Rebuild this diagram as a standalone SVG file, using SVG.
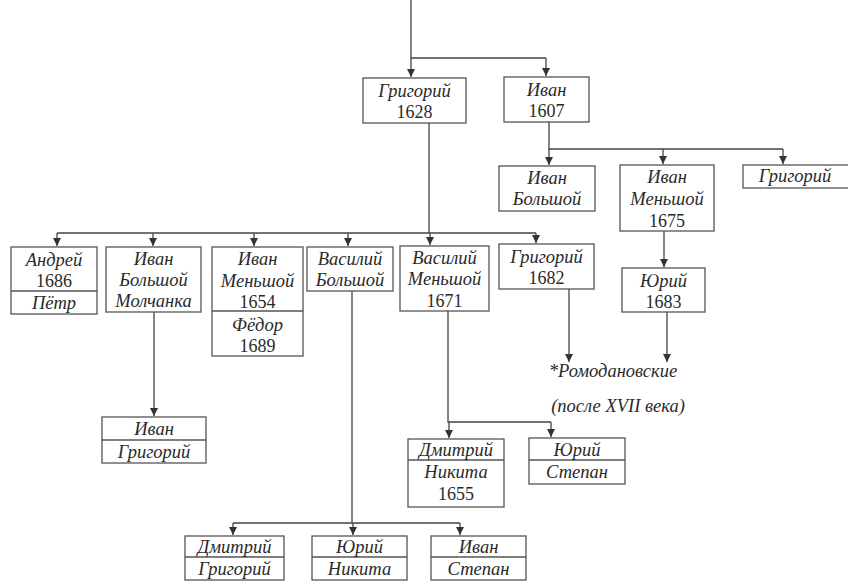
<svg xmlns="http://www.w3.org/2000/svg" width="848" height="581" viewBox="0 0 848 581">
<style>
.b{fill:#fff;stroke:#555;stroke-width:1.3}
.d{stroke:#555;stroke-width:1.3;fill:none}
.c{stroke:#444;stroke-width:1.3;fill:none}
.n{font-family:'Liberation Serif','Times New Roman','DejaVu Serif',serif;font-style:italic;font-size:18.5px;fill:#2a2a2a;text-anchor:middle}
.y{font-family:'Liberation Serif','Times New Roman','DejaVu Serif',serif;font-size:18px;fill:#2a2a2a;text-anchor:middle}
</style>
<defs>
<marker id="a" viewBox="0 0 8 8" refX="8" refY="4" markerWidth="8" markerHeight="8" markerUnits="userSpaceOnUse" orient="auto">
<path d="M0,0 L8,4 L0,8 Z" fill="#333"/>
</marker>
</defs>
<rect width="848" height="581" fill="#fff"/>
<g id="connectors">
<path class="c" d="M411,0 V58 H546"/>
<path class="c" d="M411,58 V77" marker-end="url(#a)"/>
<path class="c" d="M546,58 V76" marker-end="url(#a)"/>
<path class="c" d="M549,122 V149 H783"/>
<path class="c" d="M549,149 V165" marker-end="url(#a)"/>
<path class="c" d="M663,149 V164" marker-end="url(#a)"/>
<path class="c" d="M783,149 V164" marker-end="url(#a)"/>
<path class="c" d="M429,123 V233 M57,233 H536"/>
<path class="c" d="M57,233 V246" marker-end="url(#a)"/>
<path class="c" d="M153,233 V246" marker-end="url(#a)"/>
<path class="c" d="M254,233 V246" marker-end="url(#a)"/>
<path class="c" d="M348,233 V246" marker-end="url(#a)"/>
<path class="c" d="M430,233 V245" marker-end="url(#a)"/>
<path class="c" d="M536,233 V243" marker-end="url(#a)"/>
<path class="c" d="M664,231 V267" marker-end="url(#a)"/>
<path class="c" d="M569,289 V362" marker-end="url(#a)"/>
<path class="c" d="M667,312 V362" marker-end="url(#a)"/>
<path class="c" d="M154,312 V416" marker-end="url(#a)"/>
<path class="c" d="M448,311 V422 H551"/>
<path class="c" d="M449,422 V438" marker-end="url(#a)"/>
<path class="c" d="M551,422 V437" marker-end="url(#a)"/>
<path class="c" d="M352,291 V523 M233,523 H460"/>
<path class="c" d="M233,523 V535" marker-end="url(#a)"/>
<path class="c" d="M353,523 V535" marker-end="url(#a)"/>
<path class="c" d="M460,523 V535" marker-end="url(#a)"/>
</g>
<g id="grigoriy1628"><rect class="b" x="363" y="78" width="103" height="45"/><text class="n" x="414.5" y="97">Григорий</text><text class="y" x="414.5" y="118">1628</text></g>
<g id="ivan1607"><rect class="b" x="504" y="77" width="85" height="45"/><text class="n" x="546.5" y="96">Иван</text><text class="y" x="546.5" y="117">1607</text></g>
<g id="ivanBolshoy"><rect class="b" x="499" y="166" width="96" height="45"/><text class="n" x="547" y="184">Иван</text><text class="n" x="547" y="205">Большой</text></g>
<g id="ivanMenshoy1675"><rect class="b" x="620" y="165" width="94" height="66"/><text class="n" x="667" y="183">Иван</text><text class="n" x="667" y="205">Меньшой</text><text class="y" x="667" y="227">1675</text></g>
<g id="grigoriyRight"><rect class="b" x="743" y="165" width="108" height="23"/><text class="n" x="795" y="182">Григорий</text></g>
<g id="andrey1686"><rect class="b" x="11" y="247" width="86" height="67"/><line class="d" x1="11" y1="291" x2="97" y2="291"/><text class="n" x="54" y="266">Андрей</text><text class="y" x="54" y="287">1686</text><text class="n" x="54" y="309">Пётр</text></g>
<g id="ivanMolchanka"><rect class="b" x="106" y="247" width="95" height="65"/><text class="n" x="153.5" y="265">Иван</text><text class="n" x="153.5" y="286">Большой</text><text class="n" x="153.5" y="307">Молчанка</text></g>
<g id="ivanMenshoy1654"><rect class="b" x="212" y="247" width="91" height="109"/><line class="d" x1="212" y1="311" x2="303" y2="311"/><text class="n" x="257.5" y="265">Иван</text><text class="n" x="257.5" y="287">Меньшой</text><text class="y" x="257.5" y="308">1654</text><text class="n" x="257.5" y="331">Фёдор</text><text class="y" x="257.5" y="352">1689</text></g>
<g id="vasiliyBolshoy"><rect class="b" x="307" y="247" width="86" height="44"/><text class="n" x="350" y="265">Василий</text><text class="n" x="350" y="286">Большой</text></g>
<g id="vasiliyMenshoy1671"><rect class="b" x="400" y="246" width="89" height="65"/><text class="n" x="444.5" y="264">Василий</text><text class="n" x="444.5" y="285">Меньшой</text><text class="y" x="444.5" y="307">1671</text></g>
<g id="grigoriy1682"><rect class="b" x="499" y="244" width="95" height="45"/><text class="n" x="546.5" y="263">Григорий</text><text class="y" x="546.5" y="284">1682</text></g>
<g id="yuriy1683"><rect class="b" x="622" y="268" width="83" height="44"/><text class="n" x="663.5" y="287">Юрий</text><text class="y" x="663.5" y="308">1683</text></g>
<g id="romodanovskie"><text class="n" x="613" y="377">*Ромодановские</text><text class="n" x="618" y="412" font-size="16.5">(после XVII века)</text></g>
<g id="ivanGrigoriy"><rect class="b" x="102" y="417" width="104" height="46"/><line class="d" x1="102" y1="440" x2="206" y2="440"/><text class="n" x="154" y="435">Иван</text><text class="n" x="154" y="458">Григорий</text></g>
<g id="dmitriyNikita1655"><rect class="b" x="408" y="439" width="96" height="68"/><line class="d" x1="408" y1="460" x2="504" y2="460"/><text class="n" x="456" y="456">Дмитрий</text><text class="n" x="456" y="478">Никита</text><text class="y" x="456" y="500">1655</text></g>
<g id="yuriyStepan"><rect class="b" x="529" y="438" width="96" height="46"/><line class="d" x1="529" y1="460" x2="625" y2="460"/><text class="n" x="577" y="456">Юрий</text><text class="n" x="577" y="478">Степан</text></g>
<g id="dmitriyGrigoriy"><rect class="b" x="185" y="536" width="99" height="44"/><line class="d" x1="185" y1="557" x2="284" y2="557"/><text class="n" x="234.5" y="553">Дмитрий</text><text class="n" x="234.5" y="575">Григорий</text></g>
<g id="yuriyNikita"><rect class="b" x="312" y="536" width="95" height="44"/><line class="d" x1="312" y1="557" x2="407" y2="557"/><text class="n" x="359.5" y="553">Юрий</text><text class="n" x="359.5" y="575">Никита</text></g>
<g id="ivanStepan"><rect class="b" x="431" y="536" width="95" height="44"/><line class="d" x1="431" y1="557" x2="526" y2="557"/><text class="n" x="478.5" y="553">Иван</text><text class="n" x="478.5" y="575">Степан</text></g>
</svg>
